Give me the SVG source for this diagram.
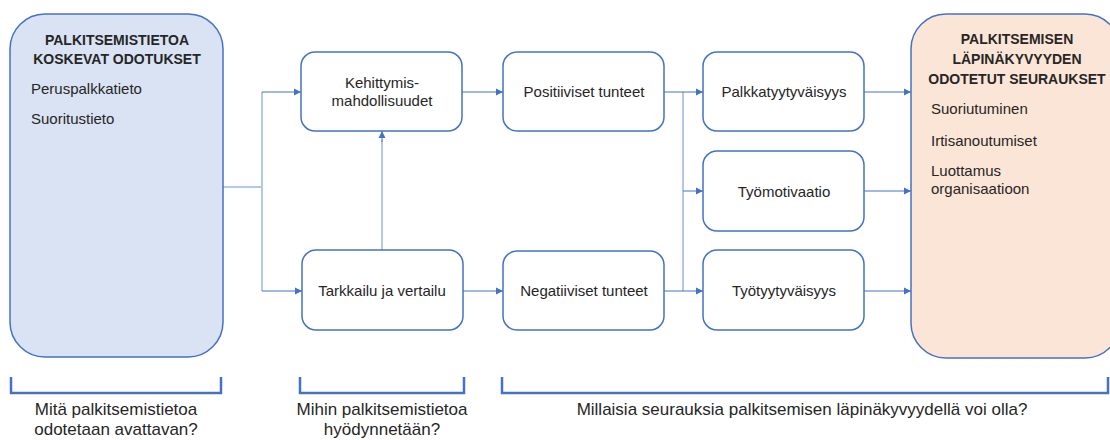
<svg xmlns="http://www.w3.org/2000/svg" width="1110" height="440" viewBox="0 0 1110 440">
<defs>
<marker id="arr" markerUnits="userSpaceOnUse" markerWidth="8" markerHeight="8" refX="7" refY="4" orient="auto">
<path d="M0,0.5 L7,4 L0,7.5 z" fill="#4472C4"/>
</marker>
<style>
text{font-family:"Liberation Sans","DejaVu Sans",sans-serif;fill:#262626}
.big{stroke:#4472C4;stroke-width:1.5}
.box{fill:#FFFFFF;stroke:#4472C4;stroke-width:1.5}
.lbl{font-size:15px;text-anchor:middle}
.ttl{font-size:14px;font-weight:bold;text-anchor:middle}
.itm{font-size:15px}
.q{font-size:17px;text-anchor:middle}
.trunk{fill:none;stroke:#B4C7E7;stroke-width:2}
.conn{fill:none;stroke:#4472C4;stroke-width:1}
.brk{fill:none;stroke:#4472C4;stroke-width:2.5}
</style>
</defs>
<rect width="1110" height="440" fill="#FFFFFF"/>
<g id="connectors">
<path class="trunk" d="M223,187 H262 M262,92 V291"/>
<path class="conn" d="M262,92 H301" marker-end="url(#arr)"/>
<path class="conn" d="M262,291 H302" marker-end="url(#arr)"/>
<path class="trunk" d="M382,250 V140"/>
<path class="conn" d="M382,142 V131" marker-end="url(#arr)"/>
<path class="conn" d="M462,92 H503" marker-end="url(#arr)"/>
<path class="conn" d="M463,291 H503" marker-end="url(#arr)"/>
<path class="trunk" d="M683,92 V291"/>
<path class="conn" d="M664,92 H703" marker-end="url(#arr)"/>
<path class="conn" d="M683,191 H703" marker-end="url(#arr)"/>
<path class="conn" d="M664,291 H703" marker-end="url(#arr)"/>
<path class="conn" d="M864,92 H911" marker-end="url(#arr)"/>
<path class="conn" d="M864,191 H911" marker-end="url(#arr)"/>
<path class="conn" d="M864,291 H911" marker-end="url(#arr)"/>
</g>
<g id="odotukset">
<rect class="big" x="10" y="14" width="213" height="343" rx="35" fill="#DAE3F3"/>
<text class="ttl" x="117" y="45">PALKITSEMISTIETOA</text>
<text class="ttl" x="117" y="64">KOSKEVAT ODOTUKSET</text>
<text class="itm" x="31" y="94">Peruspalkkatieto</text>
<text class="itm" x="31" y="124">Suoritustieto</text>
</g>
<g id="seuraukset">
<rect class="big" x="911" y="14" width="209" height="344" rx="35" fill="#FBE5D6"/>
<text class="ttl" x="1017" y="44">PALKITSEMISEN</text>
<text class="ttl" x="1017" y="64">LÄPINÄKYVYYDEN</text>
<text class="ttl" x="1017" y="84">ODOTETUT SEURAUKSET</text>
<text class="itm" x="931" y="114">Suoriutuminen</text>
<text class="itm" x="931" y="146">Irtisanoutumiset</text>
<text class="itm" x="931" y="176">Luottamus</text>
<text class="itm" x="931" y="194">organisaatioon</text>
</g>
<g id="kehittymis">
<rect class="box" x="301" y="52" width="161" height="79" rx="14"/>
<text class="lbl" x="382" y="88">Kehittymis-</text>
<text class="lbl" x="382" y="106">mahdollisuudet</text>
</g>
<g id="tarkkailu">
<rect class="box" x="302" y="250" width="161" height="80" rx="14"/>
<text class="lbl" x="382" y="296">Tarkkailu ja vertailu</text>
</g>
<g id="positiiviset">
<rect class="box" x="503" y="52" width="161" height="79" rx="14"/>
<text class="lbl" x="584" y="97">Positiiviset tunteet</text>
</g>
<g id="negatiiviset">
<rect class="box" x="503" y="251" width="161" height="79" rx="14"/>
<text class="lbl" x="584" y="296">Negatiiviset tunteet</text>
</g>
<g id="palkkatyytyvaisyys">
<rect class="box" x="703" y="52" width="161" height="79" rx="14"/>
<text class="lbl" x="784" y="97">Palkkatyytyväisyys</text>
</g>
<g id="tyomotivaatio">
<rect class="box" x="703" y="151" width="161" height="80" rx="14"/>
<text class="lbl" x="784" y="197">Työmotivaatio</text>
</g>
<g id="tyotyytyvaisyys">
<rect class="box" x="703" y="250" width="161" height="80" rx="14"/>
<text class="lbl" x="784" y="296">Työtyytyväisyys</text>
</g>
<g id="kysymykset">
<path class="brk" d="M11,377 V393 H221 V377"/>
<path class="brk" d="M300,377 V393 H464 V377"/>
<path class="brk" d="M502,377 V393 H1108 V377"/>
<text class="q" x="116" y="415">Mitä palkitsemistietoa</text>
<text class="q" x="116" y="435">odotetaan avattavan?</text>
<text class="q" x="382" y="415">Mihin palkitsemistietoa</text>
<text class="q" x="382" y="435">hyödynnetään?</text>
<text class="q" x="802" y="415">Millaisia seurauksia palkitsemisen läpinäkyvyydellä voi olla?</text>
</g>
</svg>
